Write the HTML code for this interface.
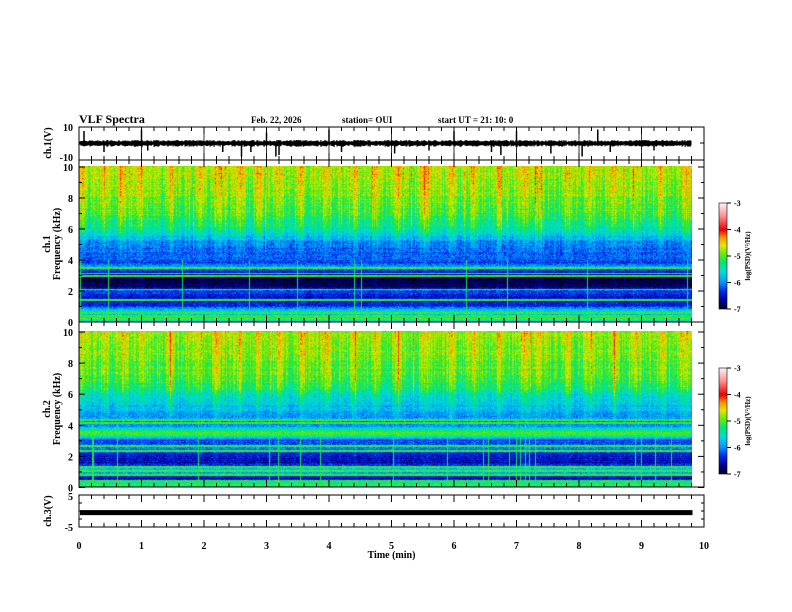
<!DOCTYPE html>
<html><head><meta charset="utf-8">
<style>
body{margin:0;background:#fff;}
#wrap{position:relative;width:792px;height:612px;overflow:hidden;background:#fff;font-family:"Liberation Serif",serif;}
canvas{position:absolute;}
svg{position:absolute;left:0;top:0;}
text{font-family:"Liberation Serif",serif;font-weight:bold;fill:#000;}
</style></head>
<body>
<div id="wrap">
<canvas id="spec1" width="613" height="156" style="left:79px;top:166px;"></canvas>
<canvas id="spec2" width="613" height="156" style="left:79px;top:331px;"></canvas>
<canvas id="cb1" width="8" height="106" style="left:719px;top:203px;"></canvas>
<canvas id="cb2" width="8" height="106" style="left:719px;top:368px;"></canvas>
<svg id="ax" width="792" height="612"></svg>
</div>
<script>
// ---- data ----
const timeTicks=[0,1,2,3,4,5,6,7,8,9,10];
const freqTicks=[0,2,4,6,8,10];
const cbTicks=[-3,-4,-5,-6,-7];
const dataEndMin=9.8;
const profFreq1=[0,0.2,0.4,0.6,1.0,1.5,2.0,2.3,2.6,2.9,3.2,3.5,3.8,4.2,5.0,5.6,6.2,7.0,8.0,9.0,10];
const profVal1 =[-5.7,-5.2,-6.0,-5.4,-6.4,-6.5,-6.3,-6.9,-7.0,-6.8,-6.5,-5.9,-6.3,-6.2,-6.1,-5.7,-5.35,-5.15,-4.95,-4.85,-4.75];
const profFreq2=[0,0.2,0.5,0.8,1.1,1.5,2.0,2.5,3.0,3.3,3.6,3.9,4.5,5.2,6.0,6.5,7.0,8.0,9.0,10];
const profVal2 =[-5.6,-5.2,-6.7,-6.0,-5.7,-6.6,-6.5,-6.1,-6.3,-5.2,-5.2,-6.0,-6.0,-5.8,-5.5,-5.25,-5.15,-5.0,-4.9,-4.8];
const lines1=[3.45,3.1,2.95,2.05,1.4,0.55,0.35,0.15];
const lines2=[4.3,4.1,3.45,2.6,2.3,1.25,1.0,0.75,0.35,0.1];
const bursts=[0.05,0.4,0.7,1.0,1.45,1.9,2.2,2.55,2.85,3.2,3.55,3.95,4.4,4.75,5.1,5.55,5.95,6.3,6.7,7.1,7.35,7.8,8.15,8.55,8.9,9.3,9.7];
const spikeT=[0.08,0.4,1.0,1.1,2.3,2.6,2.75,3.0,3.15,3.2,4.0,4.2,5.05,5.6,6.0,6.6,6.75,7.0,7.55,8.05,8.3,8.5,9.2];
const spikeV=[8,-6,9,-5,-6,-9,-6,7,-9,-8,9,-6,-7,-5,8,-6,-8,8,-7,-9,9,-6,-5];
const ch3Value=-0.4;
const cmapV=[-7,-6.7,-6.35,-6.0,-5.6,-5.25,-4.9,-4.6,-4.3,-4.0,-3.5,-3];
const cmapC=[[0,0,30],[0,0,150],[0,40,235],[0,150,255],[0,220,220],[0,230,110],[110,235,0],[230,230,0],[255,150,0],[235,0,0],[255,140,140],[255,240,245]];

const X0=79,X1=704;
const xS=t=>X0+(X1-X0)*t/10;
function hash(a,b){let h=(a*374761393+b*668265263)|0;h=(h^(h>>>13))*1274126177|0;h=h^(h>>>16);return ((h>>>0)%100000)/100000;}
function interp(xs,ys,x){if(x<=xs[0])return ys[0];for(let i=1;i<xs.length;i++){if(x<=xs[i]){const f=(x-xs[i-1])/(xs[i]-xs[i-1]);return ys[i-1]+f*(ys[i]-ys[i-1]);}}return ys[ys.length-1];}
function cmap(v){v=Math.max(-7,Math.min(-3,v));for(let i=1;i<cmapV.length;i++){if(v<=cmapV[i]){const f=(v-cmapV[i-1])/(cmapV[i]-cmapV[i-1]);const a=cmapC[i-1],b=cmapC[i];return [a[0]+f*(b[0]-a[0]),a[1]+f*(b[1]-a[1]),a[2]+f*(b[2]-a[2])];}}return cmapC[cmapC.length-1];}

function drawSpec(id,pf,pv,lines,seed){
  const c=document.getElementById(id),ctx=c.getContext('2d');
  const W=c.width,H=c.height,img=ctx.createImageData(W,H);
  const act=[];
  for(let x=0;x<W;x++){
    const t=x/W*dataEndMin;let a=(hash(x,seed)-0.5)*0.45;
    for(const b of bursts){const d=Math.abs(t-b);if(d<0.1)a+=0.4*(1-d/0.1);}
    if(hash(x,seed+7)>0.94)a+=0.3;
    act.push(a);
  }
  for(let y=0;y<H;y++){
    const f=10*(1-y/(H-1));
    const rowN=(hash(y,seed+3)-0.5)*0.3;
    let ln=0;for(const l of lines){if(Math.abs(f-l)<0.05)ln=0.9;}
    for(let x=0;x<W;x++){
      let v=interp(pf,pv,f)+rowN*0.6;
      const w=f>3.5?Math.min(1,(f-3.5)/3):0.15;
      v+=act[x]*w+(hash(x*131+y,seed)-0.5)*0.5;
      if(ln)v=Math.max(v,-5.1+(hash(x,y)-0.5)*0.4);
      if(hash(x,seed+11)>0.975&&f<4)v=Math.max(v,-5.2);
      const col=cmap(v),i=(y*W+x)*4;
      img.data[i]=col[0];img.data[i+1]=col[1];img.data[i+2]=col[2];img.data[i+3]=255;
    }
  }
  ctx.putImageData(img,0,0);
}
drawSpec('spec1',profFreq1,profVal1,lines1,17);
drawSpec('spec2',profFreq2,profVal2,lines2,53);
['cb1','cb2'].forEach(id=>{const c=document.getElementById(id),ctx=c.getContext('2d');
  for(let y=0;y<c.height;y++){const v=-3-4*y/(c.height-1);const col=cmap(v);ctx.fillStyle=`rgb(${col.map(Math.round).join(',')})`;ctx.fillRect(0,y,c.width,1);}});

const svg=document.getElementById('ax');const NS='http://www.w3.org/2000/svg';
function el(tag,attrs,txt){const e=document.createElementNS(NS,tag);for(const k in attrs)e.setAttribute(k,attrs[k]);if(txt!==undefined)e.textContent=txt;svg.appendChild(e);return e;}
function line(x1,y1,x2,y2,w){return el('line',{x1,y1,x2,y2,stroke:'#000','stroke-width':w||1});}
function txt(x,y,s,size,anchor,name){const e=el('text',{x,y,'font-size':size,'text-anchor':anchor||'start'},s);

return e;}

const panels=[{top:127,bot:160},{top:160,bot:322},{top:322,bot:487},{top:495,bot:527}];
panels.forEach((p,pi)=>{
  const r=el('rect',{x:X0,y:p.top,width:X1-X0,height:p.bot-p.top,fill:'none',stroke:'#000','stroke-width':1});
  
  
  for(let t=0;t<=10.001;t+=0.2){const x=xS(t);const maj=Math.abs(t-Math.round(t))<0.01;const L=maj?7:4;
    line(x,p.top,x,p.top+L);line(x,p.bot,x,p.bot-L);}
});
timeTicks.slice(1,10).forEach(t=>line(xS(t),127,xS(t),160,0.8));
function fy1(f){return 322-(322-167)*f/10;}
function fy2(f){return 487.5-(487.5-332)*f/10;}
freqTicks.forEach(f=>{
  [[fy1,'ch1'],[fy2,'ch2']].forEach(([fn,n])=>{const y=fn(f);line(X0,y,X0+6,y);line(X1,y,X1-6,y);
    txt(73,y+4,String(f),10,'end',n+'-freq-tick-'+f);});
  if(f<10){[fy1,fy2].forEach(fn=>{const y=fn(f+1);line(X0,y,X0+3,y);line(X1,y,X1-3,y);});}
});
let d='M'+X0+' 143';const n=613;
for(let i=0;i<n;i++){const x=X0+i;const a=1.2+hash(i,99)*1.8;d+=` L${x} ${143-a} L${x} ${143+a+hash(i,5)*1.2}`;}
const wf=el('path',{d,stroke:'#000','stroke-width':1,fill:'none'});


const vy=v=>143-v*(143-128)/10;
spikeT.forEach((t,i)=>{const s=line(xS(t),143,xS(t),vy(spikeV[i]),1.5);
  
  });
txt(73,131,'10',10,'end','ch1-ytick-10');txt(73,161,'-10',10,'end','ch1-ytick-minus10');
line(X0,143,X0+4,143);line(X1,143,X1-4,143);
const c3y=v=>511-v*(511-497)/5;
const c3=el('rect',{x:X0+1,y:c3y(ch3Value)-2,width:xS(dataEndMin)-X0,height:5,fill:'#000'});


txt(73,500,'5',10,'end','ch3-ytick-5');txt(73,531,'-5',10,'end','ch3-ytick-minus5');
[503,511,519].forEach(y=>{line(X0,y,X0+3,y);line(X1,y,X1-3,y);});
timeTicks.forEach(t=>txt(xS(t),549,String(t),10,'middle','time-tick-'+t));
txt(xS(5),558,'Time  (min)',10,'middle','x-axis-title');
function vtxt(x,y,s,size,name){const e=el('text',{x,y,'font-size':size,'text-anchor':'middle',transform:`rotate(-90 ${x} ${y})`},s);

}
vtxt(51,143,'ch.1(V)',10,'ch1-y-title');
vtxt(50,244,'ch.1',10,'spec1-y-title-a');vtxt(60,244,'Frequency  (kHz)',10,'spec1-y-title-b');
vtxt(50,409,'ch.2',10,'spec2-y-title-a');vtxt(60,409,'Frequency  (kHz)',10,'spec2-y-title-b');
vtxt(51,511,'ch.3(V)',10,'ch3-y-title');
txt(79,123,'VLF  Spectra',12,'start','chart-title');
txt(251,123,'Feb. 22, 2026',9,'start','date-label');
txt(342,123,'station= OUI',9,'start','station-label');
txt(438,123,'start  UT  =   21: 10: 0',9,'start','start-time-label');
[[203,'cb1'],[368,'cb2']].forEach(([top,n])=>{
  const r=el('rect',{x:719,y:top,width:8,height:106,fill:'none',stroke:'#000','stroke-width':0.6});
  
  
  cbTicks.forEach(v=>{const y=top+(-3-v)/4*106;line(727,y,731,y);txt(734,y+3,String(v),8,'start',n+'-tick');});
  vtxt(750,top+53,'log(PSD)(V²/Hz)',7,n+'-title');
});
</script>
</body></html>
